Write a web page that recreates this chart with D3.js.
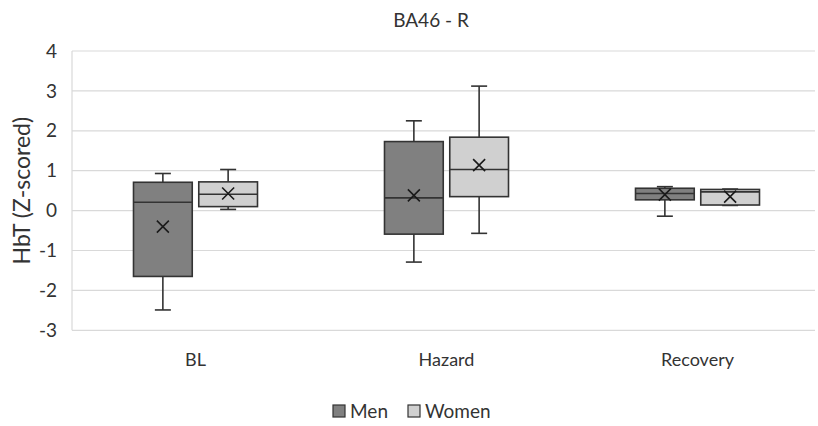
<!DOCTYPE html>
<html>
<head>
<meta charset="utf-8">
<script src="https://cdn.jsdelivr.net/npm/d3@7"></script>
<style>
  body { margin: 0; background: #fff; }
  text { font-family: Lato, "Open Sans", sans-serif; fill: #333; }
</style>
</head>
<body>
<div id="chart"></div>
<script>
const categories = ["BL", "Hazard", "Recovery"];
const groups = ["Men", "Women"];
const yTicks = [-3, -2, -1, 0, 1, 2, 3, 4];

// [whiskerLow, q1, median, q3, whiskerHigh, mean] per category
const menStats = [
  [-2.49, -1.65, 0.21, 0.71, 0.93, -0.40],
  [-1.29, -0.59, 0.32, 1.73, 2.25, 0.38],
  [-0.14, 0.27, 0.43, 0.56, 0.60, 0.40]
];
const womenStats = [
  [0.03, 0.10, 0.41, 0.72, 1.03, 0.43],
  [-0.57, 0.35, 1.03, 1.84, 3.12, 1.14],
  [0.13, 0.14, 0.47, 0.53, 0.54, 0.35]
];
const colors = { Men: "#808080", Women: "#d0d0d0" };

const width = 818, height = 426;
const svg = d3.select("#chart").append("svg")
  .attr("width", width)
  .attr("height", height);

const x = d3.scaleBand().domain(categories).range([70, 823]);
const xg = d3.scaleBand().domain(groups).range([-62, 62]).paddingInner(0.1);
const y = d3.scaleLinear().domain([-3, 4]).range([330.3, 51]);

// gridlines
svg.append("g")
  .selectAll("line")
  .data(yTicks)
  .join("line")
  .attr("x1", 72)
  .attr("x2", 815)
  .attr("y1", d => y(d))
  .attr("y2", d => y(d))
  .attr("stroke", "#d9d9d9")
  .attr("stroke-width", 1.2);

svg.append("line")
  .attr("x1", 72).attr("x2", 72)
  .attr("y1", y(4)).attr("y2", y(-3))
  .attr("stroke", "#d9d9d9")
  .attr("stroke-width", 1.2);

// y tick labels
svg.append("g")
  .selectAll("text")
  .data(yTicks)
  .join("text")
  .attr("x", 57)
  .attr("y", d => y(d))
  .attr("dy", "0.35em")
  .attr("text-anchor", "end")
  .style("font-size", "19px")
  .text(d => d);

// category labels
svg.append("g")
  .selectAll("text")
  .data(categories)
  .join("text")
  .attr("x", d => x(d) + x.bandwidth() / 2)
  .attr("y", 360)
  .attr("dy", "0.35em")
  .attr("text-anchor", "middle")
  .style("font-size", "18px")
  .text(d => d);

// boxes
const series = [
  { name: "Men", stats: menStats },
  { name: "Women", stats: womenStats }
];

series.forEach(s => {
  const g = svg.append("g");
  s.stats.forEach((st, i) => {
    const [lo, q1, med, q3, hi, mean] = st;
    const cx = x(categories[i]) + x.bandwidth() / 2;
    const bx = cx + xg(s.name);
    const bw = xg.bandwidth();
    const mid = bx + bw / 2;
    const stroke = "#333";

    g.append("line")
      .attr("x1", mid).attr("x2", mid)
      .attr("y1", y(hi)).attr("y2", y(lo))
      .attr("stroke", stroke).attr("stroke-width", 1.6);
    [lo, hi].forEach(v => {
      g.append("line")
        .attr("x1", mid - 8).attr("x2", mid + 8)
        .attr("y1", y(v)).attr("y2", y(v))
        .attr("stroke", stroke).attr("stroke-width", 1.6);
    });
    g.append("rect")
      .attr("x", bx)
      .attr("y", y(q3))
      .attr("width", bw)
      .attr("height", y(q1) - y(q3))
      .attr("fill", colors[s.name])
      .attr("stroke", stroke)
      .attr("stroke-width", 1.6);
    g.append("line")
      .attr("x1", bx).attr("x2", bx + bw)
      .attr("y1", y(med)).attr("y2", y(med))
      .attr("stroke", stroke).attr("stroke-width", 1.6);
    // mean marker
    const my = y(mean), r = 6;
    g.append("path")
      .attr("d", `M${mid - r},${my - r}L${mid + r},${my + r}M${mid - r},${my + r}L${mid + r},${my - r}`)
      .attr("stroke", "#1a1a1a")
      .attr("stroke-width", 1.6);
  });
});

// title
svg.append("text")
  .attr("x", 431)
  .attr("y", 20)
  .attr("dy", "0.35em")
  .attr("text-anchor", "middle")
  .style("font-size", "19px")
  .text("BA46 - R");

// y axis title
svg.append("text")
  .attr("transform", `translate(22,${y(0.5)}) rotate(-90)`)
  .attr("dy", "0.35em")
  .attr("text-anchor", "middle")
  .style("font-size", "23px")
  .text("HbT (Z-scored)");

// legend
const legend = svg.append("g").attr("transform", "translate(333,411)");
const legendX = [0, 75];
groups.forEach((gname, i) => {
  legend.append("rect")
    .attr("x", legendX[i])
    .attr("y", -6)
    .attr("width", 12)
    .attr("height", 12)
    .attr("fill", colors[gname])
    .attr("stroke", "#333")
    .attr("stroke-width", 1.2);
  legend.append("text")
    .attr("x", legendX[i] + 17)
    .attr("y", 0)
    .attr("dy", "0.35em")
    .style("font-size", "19px")
    .text(gname);
});
</script>
</body>
</html>
